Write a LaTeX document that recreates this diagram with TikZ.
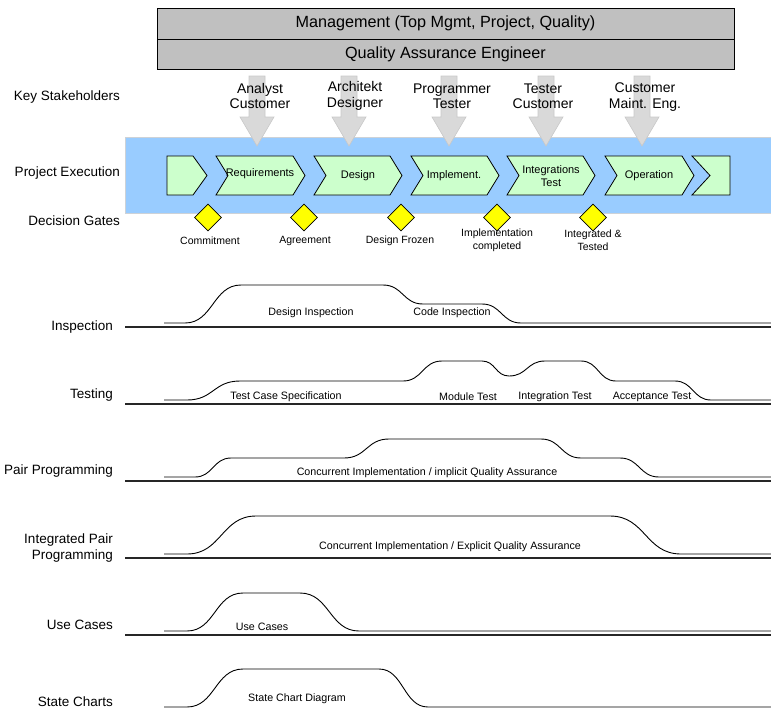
\documentclass[tikz,border=0pt]{standalone}
\usepackage{fontspec}
\setmainfont{Liberation Sans}
\usetikzlibrary{shapes.geometric}
\definecolor{mgmtgray}{RGB}{192,192,192}
\definecolor{bandblue}{RGB}{153,204,255}
\definecolor{bandedge}{RGB}{205,210,215}
\definecolor{chevgreen}{RGB}{204,255,204}
\definecolor{arrowgray}{RGB}{217,217,217}
\definecolor{arrowedge}{RGB}{200,200,200}
\definecolor{gateyellow}{RGB}{255,255,0}
\begin{document}
\begin{tikzpicture}[x=1pt,y=-1pt,
  lbl/.style={font=\fontsize{13.5}{16}\selectfont, anchor=east, align=right, inner sep=0pt},
  stk/.style={font=\fontsize{14}{15.5}\selectfont, align=center, inner sep=0pt},
  mgmttext/.style={font=\fontsize{16.2}{18}\selectfont, inner sep=0pt},
  mgmtbox/.style={fill=mgmtgray, draw=black, line width=0.8pt},
  band/.style={fill=bandblue, draw=bandedge, line width=0.8pt},
  stkarrow/.style={fill=arrowgray, draw=arrowedge, line width=0.6pt},
  chev/.style={fill=chevgreen, draw=black, line width=0.8pt, line join=miter},
  chevtext/.style={font=\fontsize{11}{13}\selectfont, align=center, inner sep=0pt},
  gate/.style={diamond, fill=gateyellow, draw=black, minimum size=27pt, inner sep=0pt, line width=0.7pt},
  gatetext/.style={font=\fontsize{10.5}{13}\selectfont, align=center, inner sep=0pt},
  curve/.style={draw=black, line width=0.9pt, line join=round},
  rowline/.style={draw=black!85, line width=1.1pt},
  curvetext/.style={font=\fontsize{10.7}{12}\selectfont, inner sep=0pt}
]
\useasboundingbox (0,0) rectangle (771,710);

% management boxes
\draw[mgmtbox] (157,8) rectangle (734,39);
\draw[mgmtbox] (157,39) rectangle (734,69);
\node[mgmttext] (mgmt) at (445.5,23.5) {Management (Top Mgmt, Project, Quality)};
\node[mgmttext] (qae) at (445.5,54.5) {Quality Assurance Engineer};

% blue band
\draw[band] (125,137) rectangle (771,213);

% stakeholder arrows
\foreach \x in {257,349,449,546,642}{
  \draw[stkarrow] (\x-8,76) -- (\x+8,76) -- (\x+8,117) -- (\x+17,117) -- (\x,146)
     -- (\x-17,117) -- (\x-8,117) -- cycle;
}
\node[stk] (s1) at (260,96) {Analyst\\Customer};
\node[stk] (s2) at (355,96) {Architekt\\Designer};
\node[stk] (s3) at (452,96) {Programmer\\Tester};
\node[stk] (s4) at (543,96) {Tester\\Customer};
\node[stk] (s5) at (645,97) {Customer\\Maint. Eng.};

% left labels
\node[lbl] (lks) at (120,97) {Key Stakeholders};
\node[lbl] (lpe) at (120,173) {Project Execution};
\node[lbl] (ldg) at (120,221) {Decision Gates};

% chevrons
\draw[chev] (167,156) -- (193,156) -- (207,175.5) -- (193,195) -- (167,195) -- cycle;
\foreach \L/\R in {216/293,314/390,411/487,507/583,605/682}{
  \draw[chev] (\L,156) -- (\R,156) -- (\R+12,175.5) -- (\R,195) -- (\L,195) -- (\L+12,175.5) -- cycle;
}
\draw[chev] (692,156) -- (730,156) -- (730,195) -- (692,195) -- (710,175.5) -- cycle;
\node[chevtext] (c1) at (260,174) {Requirements};
\node[chevtext] (c2) at (358,176) {Design};
\node[chevtext] (c3) at (454,176) {Implement.};
\node[chevtext] (c4) at (551,176) {Integrations\\Test};
\node[chevtext] (c5) at (649,176) {Operation};

% decision gates
\node[gate] (g1) at (208,217.5) {};
\node[gate] (g2) at (304,217.5) {};
\node[gate] (g3) at (401,217.5) {};
\node[gate] (g4) at (497,217.5) {};
\node[gate] (g5) at (593,217.5) {};
\node[gatetext] (t1) at (210,240.5) {Commitment};
\node[gatetext] (t2) at (305,240.5) {Agreement};
\node[gatetext] (t3) at (400,240.5) {Design Frozen};
\node[gatetext] (t4) at (497,240.5) {Implementation\\completed};
\node[gatetext] (t5) at (593,240.5) {Integrated \&\\Tested};

% row labels
\node[lbl] (rInsp) at (113,327) {Inspection};
\node[lbl] (rTest) at (113,395) {Testing};
\node[lbl] (rPair) at (113,471) {Pair Programming};
\node[lbl] (rIPair) at (113,548) {Integrated Pair\\Programming};
\node[lbl] (rUse) at (113,625) {Use Cases};
\node[lbl] (rState) at (113,702) {State Charts};

% row base lines
\foreach \y in {327,404,481,558,635}{
  \draw[rowline] (125,\y) -- (771,\y);
}

% Inspection
\draw[curve] (164,323) -- (185,323) .. controls (213,323) and (213,285) .. (241,285)
  -- (383,285) .. controls (403,285) and (403,304) .. (423,304)
  -- (482,304) .. controls (501.5,304) and (501.5,323) .. (521,323) -- (771,323);
\node[curvetext] (iDes) at (311,313) {Design Inspection};
\node[curvetext] (iCode) at (452,313) {Code Inspection};

% Testing
\draw[curve] (164,400) -- (187,400) .. controls (213.5,400) and (213.5,381) .. (240,381)
  -- (403,381) .. controls (422.5,381) and (422.5,361) .. (442,361)
  -- (482,361) .. controls (495.5,361) and (495.5,376) .. (509,376)
  .. controls (527,376) and (527,361) .. (545,361)
  -- (581,361) .. controls (598.5,361) and (598.5,381) .. (616,381)
  -- (675,381) .. controls (693,381) and (693,400) .. (711,400) -- (771,400);
\node[curvetext] (tSpec) at (286,397) {Test Case Specification};
\node[curvetext] (tMod) at (468,397) {Module Test};
\node[curvetext] (tInt) at (555,397) {Integration Test};
\node[curvetext] (tAcc) at (652,397) {Acceptance Test};

% Pair Programming
\draw[curve] (164,477) -- (195,477) .. controls (213,477) and (213,458) .. (231,458)
  -- (344,458) .. controls (366.5,458) and (366.5,439) .. (389,439)
  -- (541,439) .. controls (561,439) and (561,458) .. (581,458)
  -- (620,458) .. controls (639.5,458) and (639.5,477) .. (659,477) -- (771,477);
\node[curvetext] (pImpl) at (427,473) {Concurrent Implementation / implicit Quality Assurance};

% Integrated Pair Programming
\draw[curve] (164,554) -- (187,554) .. controls (221.5,554) and (221.5,516) .. (256,516)
  -- (610,516) .. controls (645.5,516) and (645.5,554) .. (681,554) -- (771,554);
\node[curvetext] (ipExpl) at (450,547) {Concurrent Implementation / Explicit Quality Assurance};

% Use Cases
\draw[curve] (164,631) -- (187,631) .. controls (215,631) and (215,593) .. (243,593)
  -- (300,593) .. controls (329.5,593) and (329.5,631) .. (359,631) -- (771,631);
\node[curvetext] (uUse) at (262,627) {Use Cases};

% State Charts
\draw[curve] (164,707) -- (187,707) .. controls (215,707) and (215,669) .. (243,669)
  -- (379,669) .. controls (403.5,669) and (403.5,707) .. (428,707) -- (771,707);
\node[curvetext] (sDia) at (297,699) {State Chart Diagram};

\end{tikzpicture}
\end{document}
